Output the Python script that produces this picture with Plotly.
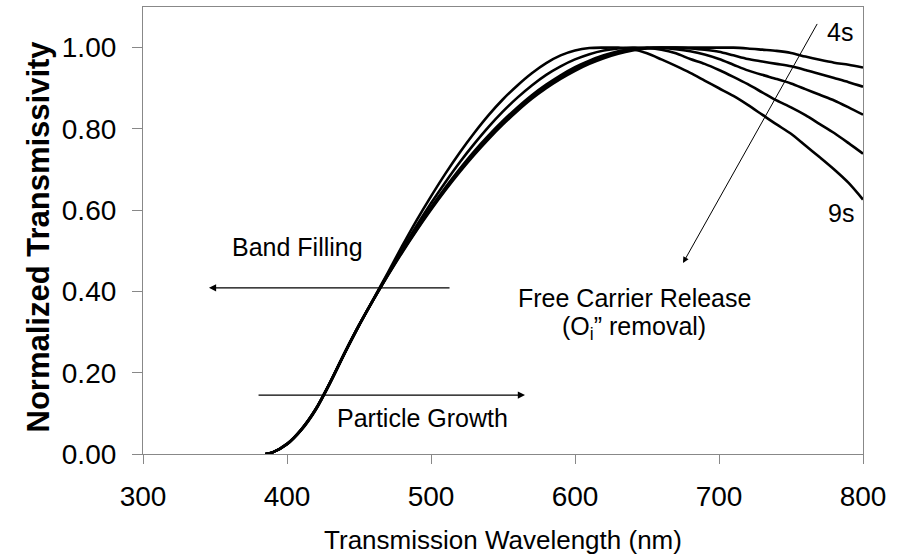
import plotly.graph_objects as go

# Wavelength grid (nm)
wavelength = [385, 390, 400, 410, 420, 430, 440, 450, 460, 470, 480, 490, 500, 510, 520, 530, 540,
              550, 560, 570, 580, 590, 600, 610, 620, 630, 640, 650, 660, 670, 680, 690, 700,
              710, 720, 730, 740, 750, 760, 770, 780, 790, 800]

# Normalized transmissivity curves
t_4s = [0.0, 0.004, 0.025, 0.061, 0.111, 0.177, 0.249, 0.317, 0.380, 0.439, 0.496, 0.550, 0.601, 0.649, 0.694,
        0.736, 0.775, 0.811, 0.844, 0.874, 0.900, 0.923, 0.943, 0.960, 0.974, 0.985, 0.993, 0.998, 1.0,
        1.0, 1.0, 1.0, 1.0, 1.0, 0.998, 0.995, 0.992, 0.987, 0.978, 0.970, 0.963, 0.958, 0.951]
t_5s = [0.0, 0.004, 0.025, 0.061, 0.111, 0.177, 0.249, 0.317, 0.380, 0.440, 0.498, 0.552, 0.604, 0.652, 0.697,
        0.740, 0.779, 0.815, 0.848, 0.878, 0.904, 0.927, 0.947, 0.964, 0.978, 0.988, 0.995, 0.999, 1.0,
        1.0, 0.998, 0.995, 0.990, 0.981, 0.972, 0.966, 0.960, 0.954, 0.945, 0.935, 0.925, 0.915, 0.904]
t_6s = [0.0, 0.004, 0.024, 0.060, 0.110, 0.176, 0.248, 0.317, 0.380, 0.441, 0.500, 0.555, 0.607, 0.656, 0.702,
        0.745, 0.784, 0.820, 0.853, 0.883, 0.909, 0.932, 0.952, 0.968, 0.981, 0.991, 0.997, 1.0, 0.999,
        0.996, 0.991, 0.983, 0.972, 0.958, 0.944, 0.933, 0.923, 0.912, 0.898, 0.884, 0.870, 0.853, 0.835]
t_7s = [0.0, 0.004, 0.024, 0.060, 0.110, 0.176, 0.248, 0.316, 0.380, 0.443, 0.504, 0.562, 0.617, 0.669, 0.718,
        0.763, 0.805, 0.843, 0.877, 0.907, 0.933, 0.954, 0.971, 0.984, 0.993, 0.998, 1.0, 0.999, 0.995,
        0.986, 0.972, 0.960, 0.945, 0.928, 0.910, 0.890, 0.870, 0.853, 0.834, 0.812, 0.790, 0.765, 0.739]
t_9s = [0.0, 0.004, 0.024, 0.059, 0.109, 0.175, 0.247, 0.316, 0.381, 0.446, 0.512, 0.575, 0.634, 0.690, 0.742,
        0.790, 0.834, 0.873, 0.907, 0.937, 0.962, 0.981, 0.993, 0.999, 1.0, 1.0, 0.996, 0.986, 0.971,
        0.955, 0.938, 0.919, 0.900, 0.881, 0.859, 0.835, 0.811, 0.788, 0.759, 0.730, 0.700, 0.667, 0.626]

series = [t_4s, t_5s, t_6s, t_7s, t_9s]
y_ticks = [0.0, 0.2, 0.4, 0.6, 0.8, 1.0]
x_ticks = [300, 400, 500, 600, 700, 800]

FONT = "Arial, Liberation Sans, sans-serif"

fig = go.Figure()
for s in series:
    fig.add_trace(go.Scatter(x=wavelength, y=s, mode="lines",
                             line=dict(color="black", width=2.6, shape="spline", smoothing=0.8),
                             showlegend=False, hoverinfo="skip"))

anno_font = dict(family=FONT, size=25, color="black")
annotations = [
    dict(x=784, y=1.039, text="4s", showarrow=False, font=anno_font),
    dict(x=784.7, y=0.594, text="9s", showarrow=False, font=anno_font),
    dict(x=407, y=0.51, text="Band Filling", showarrow=False, font=anno_font),
    dict(x=494.4, y=0.089, text="Particle Growth", showarrow=False, font=anno_font),
    dict(x=641, y=0.384, text="Free Carrier Release", showarrow=False, font=anno_font),
    dict(x=641, y=0.310, text="(O<sub>i</sub>\u201d removal)", showarrow=False, font=anno_font),
    # arrows
    dict(x=675, y=0.47, ax=768.75, ay=1.062, axref="x", ayref="y", xref="x", yref="y",
         text="", showarrow=True, arrowhead=2, arrowsize=1.2, arrowwidth=1, arrowcolor="black"),
    dict(x=345.8, y=0.409, ax=513.9, ay=0.409, axref="x", ayref="y", xref="x", yref="y",
         text="", showarrow=True, arrowhead=2, arrowsize=1.2, arrowwidth=1.2, arrowcolor="black"),
    dict(x=565.3, y=0.145, ax=379.2, ay=0.145, axref="x", ayref="y", xref="x", yref="y",
         text="", showarrow=True, arrowhead=2, arrowsize=1.2, arrowwidth=1.2, arrowcolor="black"),
    # y-axis title
    dict(xref="paper", yref="paper", x=0, y=0.5, xshift=-105, yshift=-6, textangle=-90,
         xanchor="center", yanchor="middle",
         text="<b>Normalized Transmissivity</b>", showarrow=False,
         font=dict(family=FONT, size=31, color="black")),
]

fig.update_layout(
    width=907, height=557,
    margin=dict(l=143, r=44, t=7, b=103),
    paper_bgcolor="white", plot_bgcolor="white",
    font=dict(family=FONT, color="black"),
    annotations=annotations,
    xaxis=dict(range=[300, 800], tickvals=x_ticks, ticks="outside", ticklen=9, tickcolor="#888",
               showline=True, linecolor="#888", linewidth=1.2, mirror=True, showgrid=False, zeroline=False,
               ticklabelstandoff=8,
               tickfont=dict(family=FONT, size=28, color="black"),
               title=dict(text="Transmission Wavelength (nm)", font=dict(family=FONT, size=26, color="black"),
                          standoff=20)),
    yaxis=dict(range=[0, 1.1], tickvals=y_ticks, tickformat=".2f", ticks="outside", ticklen=10,
               tickcolor="#888", showline=True, linecolor="#888", linewidth=1.2, mirror=True,
               showgrid=False, zeroline=False, ticklabelstandoff=10,
               tickfont=dict(family=FONT, size=28, color="black")),
)

fig.write_html("out.html")
